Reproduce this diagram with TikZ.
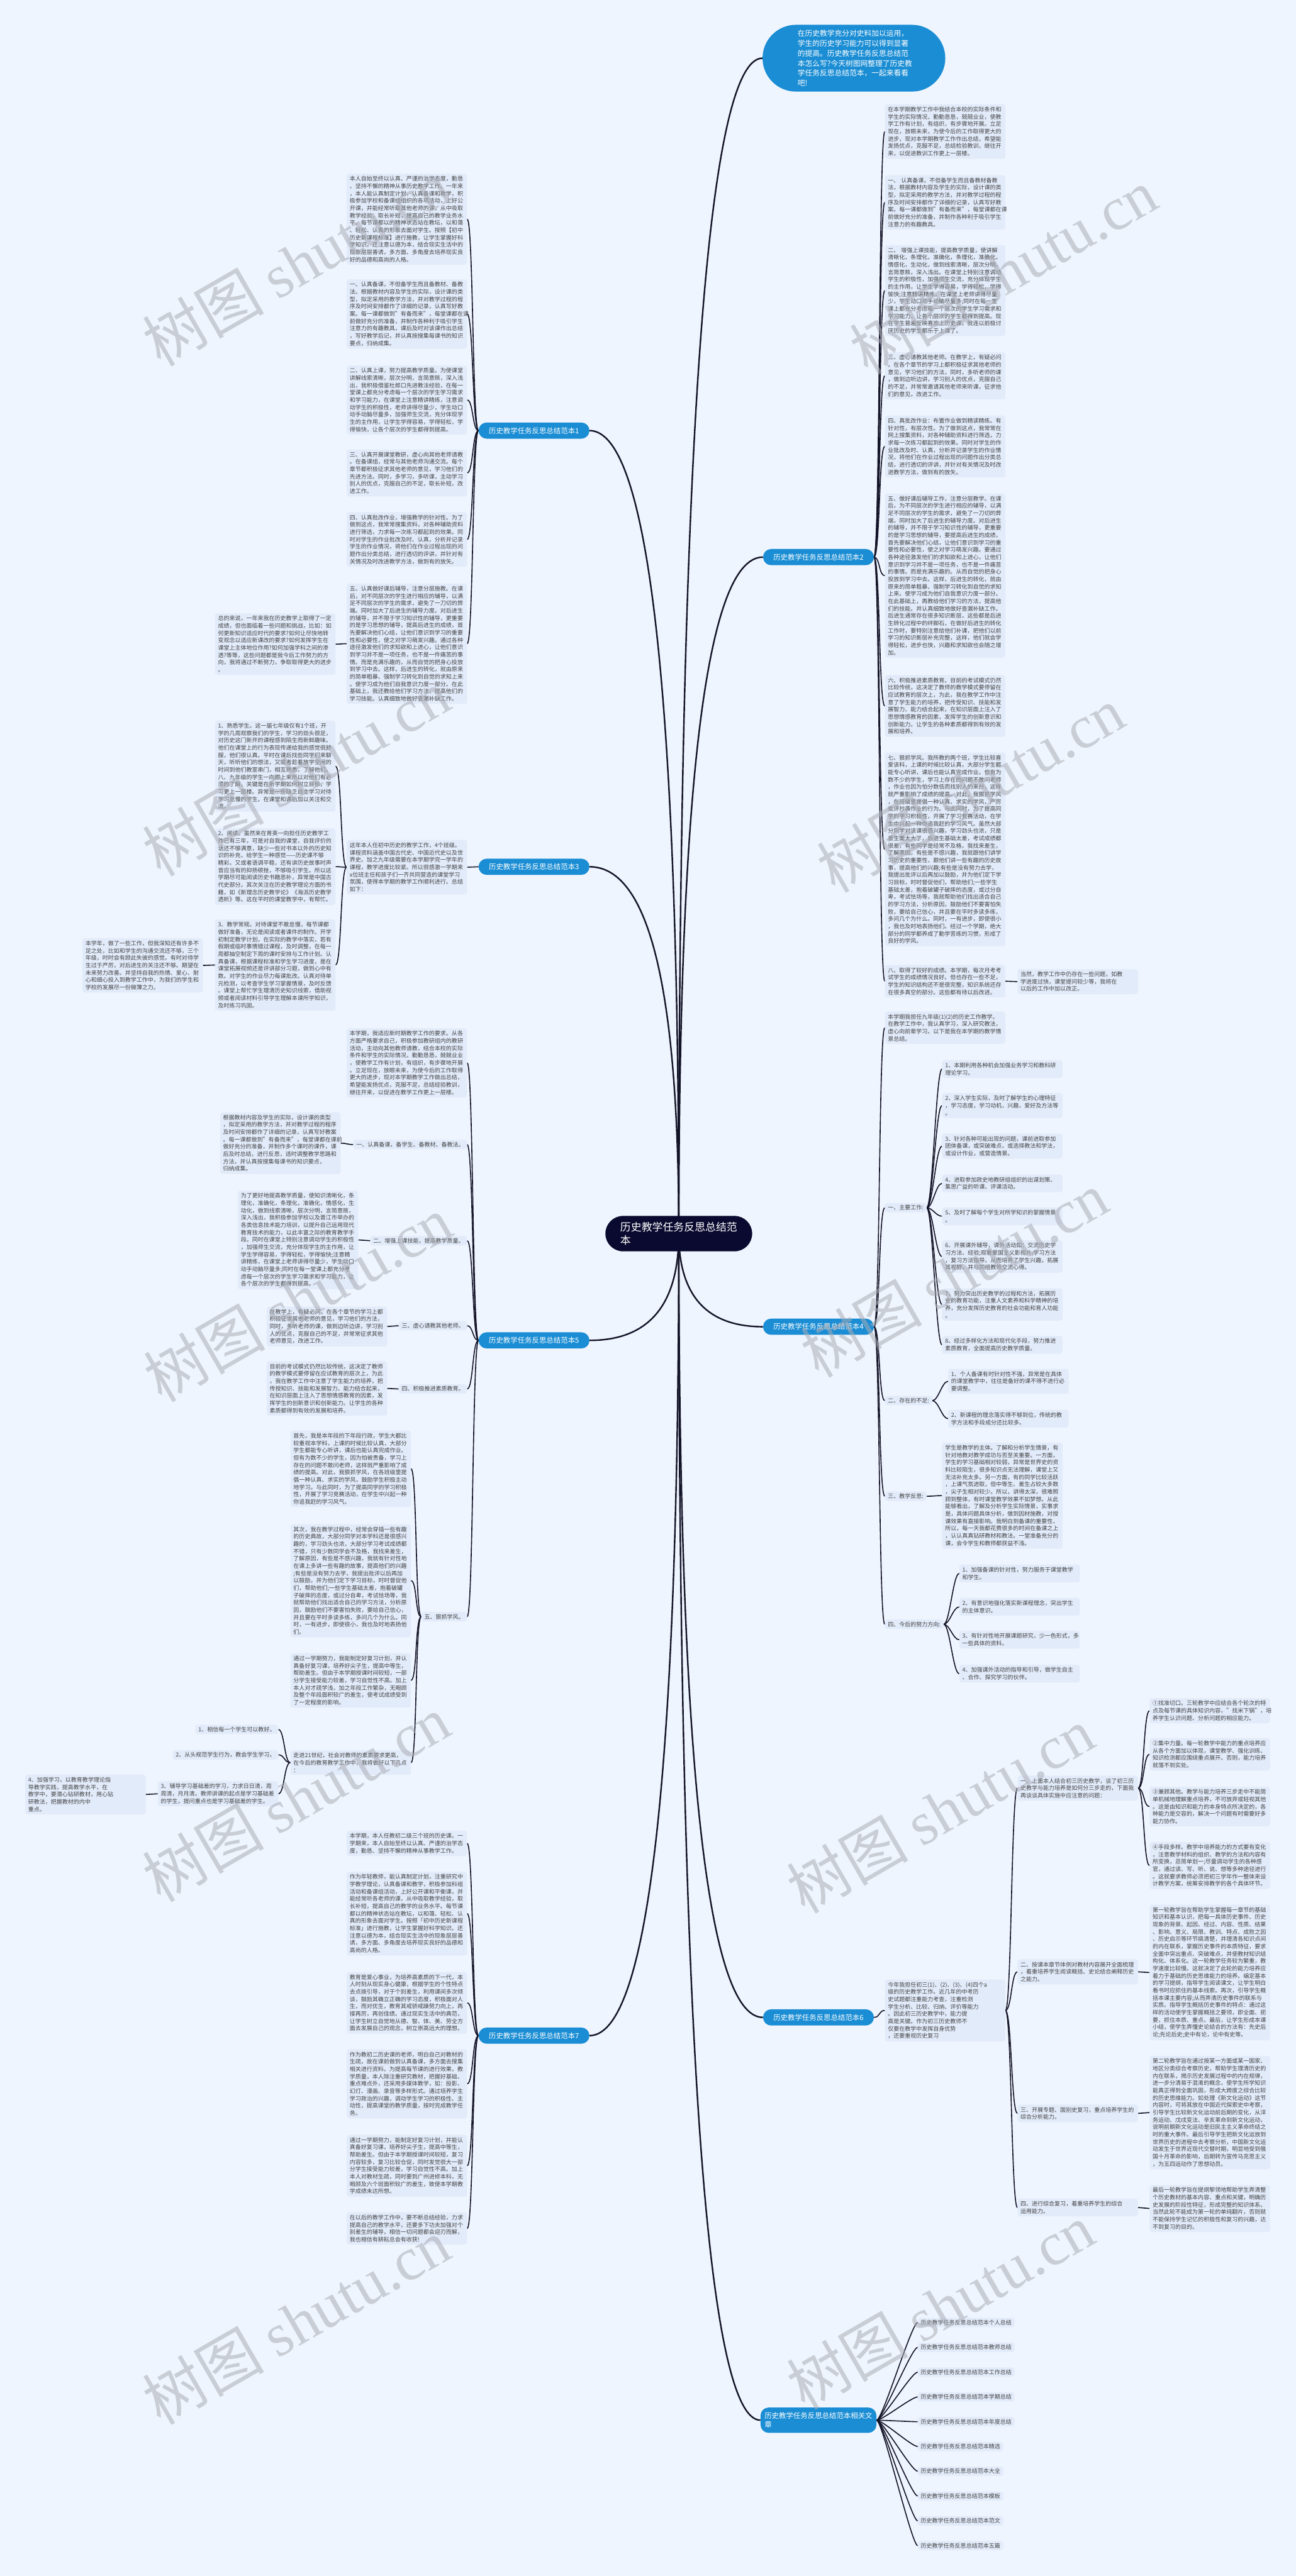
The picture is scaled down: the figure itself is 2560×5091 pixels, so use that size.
\documentclass[tikz,border=0pt]{standalone}
\usepackage{fontspec}
\setmainfont{Noto Sans CJK SC}
\newfontfamily\wmlatin{Liberation Serif}
\usetikzlibrary{calc}
\definecolor{bgc}{RGB}{239,245,254}
\definecolor{boxc}{RGB}{226,235,250}
\definecolor{txtc}{RGB}{68,68,68}
\definecolor{brc}{RGB}{26,141,212}
\definecolor{ctrc}{RGB}{10,10,48}
\definecolor{lnc}{RGB}{20,20,40}
\definecolor{wmc}{RGB}{170,173,182}
\pgfdeclarelayer{back}\pgfdeclarelayer{lines}
\pgfsetlayers{back,lines,main}
\newcommand\myfs{\fontsize{11.2pt}{14.5pt}\selectfont}
\newcommand\myrc[2]{\draw[lk] (#1.east) .. controls +(12,0) and +(-12,0) .. (#2.west);}
\newcommand\mylc[2]{\draw[lk] (#1.west) .. controls +(-12,0) and +(12,0) .. (#2.east);}
\newcommand\myctr[2]{\coordinate (q#1) at (ctr.center |- #1.#2);
 \draw[mlk] (ctr.center) .. controls ($(ctr.center)!0.667!(q#1)$) and ($(#1.#2)!0.667!(q#1)$) .. (#1.#2);}
\tikzset{
 tb/.style={fill=boxc, rounded corners=5pt, inner xsep=6pt, inner ysep=5pt, text width=226pt, align=left, font=\myfs, text=txtc},
 lb/.style={fill=boxc, rounded corners=5pt, inner xsep=6pt, inner ysep=4pt, font=\myfs, text=txtc},
 br/.style={fill=brc, rounded corners=16pt, text=white, font=\fontsize{14.2pt}{17pt}\selectfont, minimum height=32pt, minimum width=219pt, inner xsep=8pt},
 lk/.style={draw=lnc, line width=2pt},
 mlk/.style={draw=lnc, line width=3pt},
 wm/.style={text=wmc, opacity=0.55, rotate=30, font=\fontsize{120pt}{125pt}\selectfont},
}
\begin{document}
\begin{tikzpicture}[x=1pt,y=-1pt]
\useasboundingbox (0,0) rectangle (2560,5091);
\begin{pgfonlayer}{back}
\fill[bgc] (0,0) rectangle (2560,5091);
\end{pgfonlayer}

% ---------- top intro and center ----------
\node[fill=brc, rounded corners=66pt, minimum width=361pt, minimum height=132pt, text width=222pt, align=left, text=white, font=\fontsize{14.6pt}{19.6pt}\selectfont] (intro) at (1687,115) {在历史教学充分对史料加以运用，\\学生的历史学习能力可以得到显著\\的提高。历史教学任务反思总结范\\本怎么写?今天树图网整理了历史教\\学任务反思总结范本，一起来看看\\吧!};
\node[fill=ctrc, rounded corners=35pt, minimum width=290pt, minimum height=70pt, text width=231pt, align=left, text=white, font=\fontsize{21pt}{26pt}\selectfont] (ctr) at (1341,2438) {历史教学任务反思总结范\\本};

\node[br] (b1) at (1055,851) {历史教学任务反思总结范本1};
\node[br] (b2) at (1617,1101) {历史教学任务反思总结范本2};
\node[br] (b3) at (1055,1713) {历史教学任务反思总结范本3};
\node[br] (b4) at (1617,2622) {历史教学任务反思总结范本4};
\node[br] (b5) at (1055,2649) {历史教学任务反思总结范本5};
\node[br] (b6) at (1617,3987) {历史教学任务反思总结范本6};
\node[br] (b7) at (1055,4023) {历史教学任务反思总结范本7};
\node[br, text width=213pt, align=left, minimum height=50pt, font=\fontsize{14.2pt}{18pt}\selectfont] (b8) at (1617,4783) {历史教学任务反思总结范本相关文\\章};

% ---------- branch 1 ----------
\node[tb, anchor=north east] (b1a) at (923,343) {本人自始至终以认真、严谨的治学态度，勤恳\\、坚持不懈的精神从事历史教学工作。一年来\\，本人能认真制定计划，认真备课和教学，积\\极参加学校和备课组组织的各项活动，上好公\\开课，并能经常听取其他老师的课，从中吸取\\教学经验，取长补短，提高自己的教学业务水\\平。每节课都以的精神状态站在教坛，以和蔼\\、轻松、认真的形象去面对学生。按照【初中\\历史新课程标准】进行施教，让学生掌握好科\\学知识。还注意以德为本，结合现实生活中的\\现象层层善诱，多方面、多角度去培养现实良\\好的品德和高尚的人格。};
\node[tb, anchor=north east] (b1b) at (923,552) {一、认真备课，不但备学生而且备教材、备教\\法。根据教材内容及学生的实际，设计课的类\\型，拟定采用的教学方法，并对教学过程的程\\序及时间安排都作了详细的记录，认真写好教\\案。每一课都做到"有备而来"，每堂课都在课\\前做好充分的准备，并制作各种利于吸引学生\\注意力的有趣教具，课后及时对该课作出总结\\，写好教学后记，并认真按搜集每课书的知识\\要点，归纳成集。};
\node[tb, anchor=north east] (b1c) at (923,722) {二、认真上课，努力提高教学质量。为使课堂\\讲解线索清晰，层次分明，言简意赅，深入浅\\出，我积极借鉴杜郎口先进教法经验，在每一\\堂课上都充分考虑每一个层次的学生学习需求\\和学习能力，在课堂上注意精讲精练，注意调\\动学生的积极性，老师讲得尽量少，学生动口\\动手动脑尽量多，加强师生交流，充分体现学\\生的主作用，让学生学得容易，学得轻松，学\\得愉快，让各个层次的学生都得到提高。};
\node[tb, anchor=north east] (b1d) at (923,888) {三、认真开展课堂教研，虚心向其他老师请教\\。在备课组，经常与其他老师沟通交流。每个\\章节都积极征求其他老师的意见，学习他们的\\先进方法。同时，多学习，多听课，主动学习\\别人的优点，克服自己的不足，取长补短，改\\进工作。};
\node[tb, anchor=north east] (b1e) at (923,1012) {四、认真批改作业，增强教学的针对性。为了\\做到这点，我常常搜集资料，对各种辅助资料\\进行筛选，力求每一次练习都起到的效果。同\\时对学生的作业批改及时、认真，分析并记录\\学生的作业情况，将他们在作业过程出现的问\\题作出分类总结，进行透切的评讲，并针对有\\关情况及时改进教学方法，做到有的放矢。};
\node[tb, anchor=north east] (b1f) at (923,1153) {五、认真做好课后辅导，注意分层施教。在课\\后，对不同层次的学生进行相应的辅导，以满\\足不同层次的学生的需求，避免了一刀切的弊\\端。同时加大了后进生的辅导力度。对后进生\\的辅导，并不限于学习知识性的辅导，更重要\\的是学习思想的辅导，提高后进生的成绩，首\\先要解决他们心结，让他们意识到学习的重要\\性和必要性，使之对学习萌发兴趣。通过各种\\途径激发他们的求知欲和上进心，让他们意识\\到学习并不是一项任务，也不是一件痛苦的事\\情。而是充满乐趣的，从而自觉的把身心投放\\到学习中去。这样，后进生的转化，就由原来\\的简单粗暴、强制学习转化到自觉的求知上来\\。使学习成为他们自我意识力度一部分。在此\\基础上，我还教给他们学习方法，提高他们的\\学习技能。认真细致地做好查漏补缺工作。};
\node[tb, anchor=north east] (b1g) at (663,1212) {总的来说，一年来我在历史教学上取得了一定\\成绩，但也面临着一些问题和挑战，比如：如\\何更新知识适应时代的要求?如何让尽快地转\\变观念以适应新课改的要求?如何发挥学生在\\课堂上主体地位作用?如何加强学科之间的渗\\透?等等，这些问题都是我今后工作努力的方\\向，我将通过不断努力，争取取得更大的进步\\。};

% ---------- branch 2 ----------
\node[tb, anchor=north west] (b2a) at (1748,206) {在本学期教学工作中我结合本校的实际条件和\\学生的实际情况，勤勤恳恳，兢兢业业，使教\\学工作有计划，有组织，有步骤地开展。立足\\现在，放眼未来，为使今后的工作取得更大的\\进步，现对本学期教学工作作出总结，希望能\\发扬优点，克服不足，总结检验教训，继往开\\来，以促进教训工作更上一层楼。};
\node[tb, anchor=north west] (b2b) at (1748,346) {一、 认真备课，不但备学生而且备教材备教\\法，根据教材内容及学生的实际，设计课的类\\型，拟定采用的教学方法，并对教学过程的程\\序及时间安排都作了详细的记录，认真写好教\\案。每一课都做到"有备而来"，每堂课都在课\\前做好充分的准备，并制作各种利于吸引学生\\注意力的有趣教具。};
\node[tb, anchor=north west] (b2c) at (1748,484) {二、 增强上课技能，提高教学质量，使讲解\\清晰化，条理化，准确化，条理化，准确化，\\情感化，生动化，做到线索清晰，层次分明，\\言简意赅，深入浅出。在课堂上特别注意调动\\学生的积极性，加强师生交流，充分体现学生\\的主作用，让学生学得容易，学得轻松，学得\\愉快;注意精讲精练，在课堂上老师讲得尽量\\少，学生动口动手动脑尽量多;同时在每一堂\\课上都充分考虑每一个层次的学生学习需求和\\学习能力，让各个层次的学生都得到提高。现\\在学生普遍反映喜欢上历史课，就连以前极讨\\厌历史的学生都乐于上课了。};
\node[tb, anchor=north west] (b2d) at (1748,696) {三、虚心请教其他老师。在教学上，有疑必问\\。在各个章节的学习上都积极征求其他老师的\\意见，学习他们的方法，同时，多听老师的课\\，做到边听边讲，学习别人的优点，克服自己\\的不足，并常常邀请其他老师来听课，征求他\\们的意见，改进工作。};
\node[tb, anchor=north west] (b2e) at (1748,821) {四、真批改作业：布置作业做到精读精练。有\\针对性，有层次性。为了做到这点，我常常在\\网上搜集资料，对各种辅助资料进行筛选，力\\求每一次练习都起到的效果。同时对学生的作\\业批改及时、认真，分析并记录学生的作业情\\况，将他们在作业过程出现的问题作出分类总\\结，进行透切的评讲，并针对有关情况及时改\\进教学方法，做到有的放矢。};
\node[tb, anchor=north west] (b2f) at (1748,975) {五、做好课后辅导工作，注意分层教学。在课\\后，为不同层次的学生进行相应的辅导，以满\\足不同层次的学生的需求，避免了一刀切的弊\\端，同时加大了后进生的辅导力度。对后进生\\的辅导，并不限于学习知识性的辅导，更重要\\的是学习思想的辅导，要提高后进生的成绩，\\首先要解决他们心结，让他们意识到学习的重\\要性和必要性，使之对学习萌发兴趣。要通过\\各种途径激发他们的求知欲和上进心，让他们\\意识到学习并不是一项任务，也不是一件痛苦\\的事情。而是充满乐趣的。从而自觉的把身心\\投放到学习中去。这样，后进生的转化，就由\\原来的简单粗暴、强制学习转化到自觉的求知\\上来。使学习成为他们自我意识力度一部分。\\在此基础上，再教给他们学习的方法，提高他\\们的技能。并认真细致地做好查漏补缺工作。\\后进生通常存在很多知识断层，这些都是后进\\生转化过程中的绊脚石，在做好后进生的转化\\工作时，要特别注意给他们补课，把他们以前\\学习的知识断层补充完整，这样，他们就会学\\得轻松，进步也快，兴趣和求知欲也会随之增\\加。};
\node[tb, anchor=north west] (b2g) at (1748,1334) {六、积极推进素质教育。目前的考试模式仍然\\比较传统，这决定了教师的教学模式要停留在\\应试教育的层次上，为此，我在教学工作中注\\意了学生能力的培养，把传受知识、技能和发\\展智力、能力结合起来，在知识层面上注入了\\思想情感教育的因素，发挥学生的创新意识和\\创新能力。让学生的各种素质都得到有效的发\\展和培养。};
\node[tb, anchor=north west] (b2h) at (1748,1487) {七、狠抓学风。我所教的两个班，学生比较喜\\爱该科，上课的时候比较认真，大部分学生都\\能专心听讲，课后也能认真完成作业。但有为\\数不少的学生，学习上存在的问题不敢问老师\\，作业也因为怕分数低而找别人的来抄，这样\\就严重影响了成绩的提高。对此，我狠抓学风\\，在班级里提倡一种认真、求实的学风，严厉\\批评抄袭作业的行为。与此同时，为了提高同\\学的学习积极性，开展了学习竞赛活动，在学\\生中兴起一种你追我赶的学习风气。虽然大部\\分同学对该课很感兴趣，学习劲头也浓，只是\\差生面太大了，后进生基础太差，考试成绩都\\很差，有些同学是经常不及格，我找来差生，\\了解原因，有些是不感兴趣，我就跟他们讲学\\习历史的重要性，跟他们讲一些有趣的历史故\\事，提高他们的兴趣;有些是没有努力去学，\\我提出批评以后再加以鼓励，并为他们定下学\\习目标，时时督促他们，帮助他们;一些学生\\基础太差，抱着破罐子破摔的态度，或过分自\\卑，考试怯场等，我就帮助他们找出适合自己\\的学习方法，分析原因，鼓励他们不要害怕失\\败，要给自己信心，并且要在平时多读多练，\\多问几个为什么。同时，一有进步，即使很小\\，我也及时地表扬他们。经过一个学期，绝大\\部分的同学都养成了勤学苦练的习惯，形成了\\良好的学风。};
\node[tb, anchor=north west] (b2i) at (1748,1907) {八、取得了较好的成绩。本学期，每次月考考\\试学生的成绩情况良好。但也存在一些不足，\\学生的知识结构还不是很完整，知识系统还存\\在很多真空的部分。这些都有待以后改进。};
\node[tb, anchor=west] (b2j) at (2010,1940) {当然，教学工作中仍存在一些问题，如教\\学进度过快，课堂提问较少等，我将在\\以后的工作中加以改正。};

% ---------- branch 3 ----------
\node[tb, anchor=north east] (b3a) at (923,1660) {这年本人任初中历史的教学工作，4个班级。\\课程资料涵盖中国古代史、中国近代史以及世\\界史。加之九年级需要在本学期学完一学年的\\课程，教学进度比较紧。所以很感激一学期来\\x位班主任和孩子们一齐共同营造的课堂学习\\氛围，使得本学期的教学工作顺利进行。总结\\如下：};
\node[tb, anchor=north east] (b3b) at (663,1424) {1、熟悉学生。这一届七年级仅有1个班，开\\学的几周观察我们的学生，学习的劲头很足，\\对历史这门新开的课程感到陌生而新鲜趣味。\\他们在课堂上的行为表现传递给我的感觉很舒\\服，他们很认真。平时在课后找些同学们来聊\\天，听听他们的想法，又或者趁着放学空闲的\\时间到他们教室串门，相互熟悉，了解他们。\\八、九年级的学生一向跟上来所以对他们有必\\须的了解，关键是在新学期如何树立目标，学\\习更上一层楼。异常是一些缺乏自主学习对待\\学习怠慢的学生。在课堂和课后加以关注和交\\流。};
\node[tb, anchor=north east] (b3c) at (663,1637) {2、阅读。虽然来在育英一向担任历史教学工\\作已有三年，可是对自我的课堂，自我评价的\\话还不够满意，缺少一些对书本以外的历史知\\识的补充，给学生一种感觉——历史课不够\\精彩。又或者语调平稳，还有讲历史故事时声\\音应当有的抑扬顿挫，不够吸引学生。所以这\\学期尽可能阅读历史书籍恶补，异常是中国古\\代史部分。其次关注在历史教学理论方面的书\\籍，如《新理念历史教学论》《海派历史教学\\透析》等。这在平时的课堂教学中，有帮忙。};
\node[tb, anchor=north east] (b3d) at (663,1817) {3、教学常规。对待课堂不敢怠慢，每节课都\\做好准备，无论是阅读或者课件的制作。开学\\初制定教学计划，在实际的教学中落实，若有\\假期或临时事情错过课程，及时调整，在每一\\周都抽空制定下周的课时安排与工作计划。认\\真备课，根据课程标准和学生学习进度，是在\\课堂拓展视频还是评讲部分习题，做到心中有\\数。对学生的作业尽力每课批改。认真对待单\\元检测，以考查学生学习掌握情景，及时反馈\\。课堂上帮忙学生理清历史知识线索，借助视\\频或者阅读材料引导学生理解本课所学知识，\\及时练习巩固。};
\node[tb, anchor=north east] (b3e) at (401,1854) {本学年，做了一些工作，但我深知还有许多不\\足之处，比如和学生的沟通交流还不够，三个\\年级，时时会有顾此失彼的感觉。有时对待学\\生过于严厉，对后进生的关注还不够。期望在\\未来努力改善。并坚持自我的热情、爱心、耐\\心和细心投入到教学工作中，为我们的学生和\\学校的发展尽一份微薄之力。};

% ---------- branch 4 ----------
\node[tb, anchor=north west] (b4a) at (1748,1999) {本学期我担任九年级(1)(2)的历史工作教学。\\在教学工作中，我认真学习，深入研究教法，\\虚心向前辈学习。以下是我在本学期的教学情\\景总结。};
\node[lb, anchor=west] (l41) at (1748,2387) {一、主要工作:};
\node[tb, anchor=north west] (i411) at (1861,2095) {1、本期利用各种机会加强业务学习和教科研\\理论学习。};
\node[tb, anchor=north west] (i412) at (1861,2160) {2、深入学生实际，及时了解学生的心理特征\\，学习态度，学习动机，兴趣，爱好及方法等\\。};
\node[tb, anchor=north west] (i413) at (1861,2240) {3、针对各种可能出现的问题，课前进取参加\\团体备课，或突破难点，或选择教法和学法，\\或设计作业，或营造情景。};
\node[tb, anchor=north west] (i414) at (1861,2321) {4、进取参加政史地教研组组织的出谋划策、\\集思广益的听课、评课活动。};
\node[tb, anchor=north west] (i415) at (1861,2386) {5、及时了解每个学生对所学知识的掌握情景\\。};
\node[tb, anchor=north west] (i416) at (1861,2451) {6、开展课外辅导，课外活动如：交流历史学\\习方法、经验;观看爱国主义影视片;学习方法\\，复习方法指导。从而培养了学生兴趣，拓展\\其视野，并与同组教师交流心得。};
\node[tb, anchor=north west] (i417) at (1861,2546) {7、努力突出历史教学的过程和方法，拓展历\\史的教育功能，注重人文素养和科学精神的培\\养，充分发挥历史教育的社会功能和育人功能\\。};
\node[tb, anchor=north west] (i418) at (1861,2640) {8、经过多样化方法和现代化手段，努力推进\\素质教育，全面提高历史教学质量。};
\node[lb, anchor=west] (l42) at (1748,2768) {二、存在的不足:};
\node[tb, anchor=north west] (i421) at (1873,2705) {1、个人备课有时针对性不强，异常是在具体\\的课堂教学中，往往是备好的课不得不进行必\\要调整。};
\node[tb, anchor=north west] (i422) at (1873,2786) {2、新课程的理念落实得不够到位，传统的教\\学方法和手段成分还比较多。};
\node[lb, anchor=west] (l43) at (1748,2957) {三、教学反思:};
\node[tb, anchor=north west] (i431) at (1861,2851) {学生是教学的主体。了解和分析学生情景，有\\针对地教对教学成功与否至关重要。一方面，\\学生的学习基础相对较弱，异常是世界史的资\\料比较陌生，很多知识点无法理解，课堂上又\\无法补充太多。另一方面，有的同学比较活跃\\，上课气氛进取，但中等生、差生占较大多数\\，尖子生相对较少。所以，讲得太深，很难照\\顾到整体，有时课堂教学效果不如梦想。从此\\能够看出，了解及分析学生实际情景，实事求\\是，具体问题具体分析，做到因材施教，对授\\课效果有直接影响。我明白到备课的重要性，\\所以，每一天我都花费很多的时间在备课之上\\，认认真真钻研教材和教法。一堂准备充分的\\课，会令学生和教师都获益不浅。};
\node[lb, anchor=west] (l44) at (1748,3210) {四、今后的努力方向:};
\node[tb, anchor=north west] (i441) at (1895,3092) {1、加强备课的针对性，努力服务于课堂教学\\和学生。};
\node[tb, anchor=north west] (i442) at (1895,3158) {2、有意识地强化落实新课程理念，突出学生\\的主体意识。};
\node[tb, anchor=north west] (i443) at (1895,3223) {3、有针对性地开展课题研究，少一色形式，多\\一些具体的资料。};
\node[tb, anchor=north west] (i444) at (1895,3290) {4、加强课外活动的指导和引导，做学生自主\\、合作、探究学习的伙伴。};

% ---------- branch 5 ----------
\node[tb, anchor=north east] (b5a) at (923,2032) {本学期，我适应新时期教学工作的要求。从各\\方面严格要求自己，积极参加教研组内的教研\\活动，主动向其他教师请教，结合本校的实际\\条件和学生的实际情况，勤勤恳恳，兢兢业业\\，使教学工作有计划，有组织，有步骤地开展\\。立足现在，放眼未来，为使今后的工作取得\\更大的进步，现对本学期教学工作做出总结，\\希望能发扬优点，克服不足，总结经验教训，\\继往开来，以促进在教学工作更上一层楼。};
\node[lb, anchor=east] (l51) at (923,2262) {一、认真备课，备学生、备教材、备教法。};
\node[tb, anchor=north east] (d51) at (673,2198) {根据教材内容及学生的实际，设计课的类型\\，拟定采用的教学方法，并对教学过程的程序\\及时间安排都作了详细的记录，认真写好教案\\。每一课都做到"有备而来"，每堂课都在课前\\做好充分的准备，并制作多个课时的课件，课\\后及时总结，进行反思，适时调整教学思路和\\方法，并认真按搜集每课书的知识要点，\\归纳成集。};
\node[lb, anchor=east] (l52) at (923,2452) {二、增强上课技能，提高教学质量。};
\node[tb, anchor=north east] (d52) at (708,2353) {为了更好地提高教学质量，使知识清晰化，条\\理化，准确化，条理化，准确化，情感化，生\\动化，做到线索清晰，层次分明，言简意赅，\\深入浅出，我积极参加学校以及晋江市举办的\\各类信息技术能力培训，以提升自己运用现代\\教育技术的能力，以此丰富之际的教育教学手\\段。同时在课堂上特别注意调动学生的积极性\\，加强师生交流，充分体现学生的主作用，让\\学生学得容易，学得轻松，学得愉快;注意精\\讲精练，在课堂上老师讲得尽量少，学生动口\\动手动脑尽量多;同时在每一堂课上都充分考\\虑每一个层次的学生学习需求和学习能力，让\\各个层次的学生都得到提高。};
\node[lb, anchor=east] (l53) at (923,2620) {三、虚心请教其他老师。};
\node[tb, anchor=north east] (d53) at (765,2582) {在教学上，有疑必问。在各个章节的学习上都\\积极征求其他老师的意见，学习他们的方法，\\同时，多听老师的课，做到边听边讲，学习别\\人的优点，克服自己的不足，并常常征求其他\\老师意见，改进工作。};
\node[lb, anchor=east] (l54) at (923,2745) {四、积极推进素质教育。};
\node[tb, anchor=north east] (d54) at (765,2690) {目前的考试模式仍然比较传统，这决定了教师\\的教学模式要停留在应试教育的层次上，为此\\，我在教学工作中注意了学生能力的培养，把\\传授知识、技能和发展智力、能力结合起来，\\在知识层面上注入了思想情感教育的因素，发\\挥学生的创新意识和创新能力。让学生的各种\\素质都得到有效的发展和培养。};
\node[lb, anchor=east] (l55) at (923,3195) {五、狠抓学风。};
\node[tb, anchor=north east] (d55a) at (812,2827) {首先，我是本年段的下年段行政，学生大都比\\较重视本学科，上课的时候比较认真，大部分\\学生都能专心听讲，课后也能认真完成作业。\\但有为数不少的学生，因为怕被责备，学习上\\存在的问题不敢问老师，这样就严重影响了成\\绩的提高。对此，我狠抓学风，在各班级里提\\倡一种认真、求实的学风，鼓励学生积极主动\\地学习。与此同时，为了提高同学的学习积极\\性，开展了学习竞赛活动，在学生中兴起一种\\你追我赶的学习风气。};
\node[tb, anchor=north east] (d55b) at (812,3012) {其次，我在教学过程中，经常会穿插一些有趣\\的历史典故，大部分同学对本学科还是很感兴\\趣的，学习劲头也浓，大部分学习考试成绩都\\不错，只有少数同学会不及格，我找来差生，\\了解原因，有些是不感兴趣，我就有针对性地\\在课上多讲一些有趣的故事，提高他们的兴趣\\;有些是没有努力去学，我提出批评以后再加\\以鼓励，并为他们定下学习目标，时时督促他\\们，帮助他们;一些学生基础太差，抱着破罐\\子破摔的态度，或过分自卑，考试怯场等，我\\就帮助他们找出适合自己的学习方法，分析原\\因，鼓励他们不要害怕失败，要给自己信心，\\并且要在平时多读多练，多问几个为什么。同\\时，一有进步，即使很小，我也及时地表扬他\\们。};
\node[tb, anchor=north east] (d55c) at (812,3267) {通过一学期努力，我能制定好复习计划，并认\\真备好复习课，培养好尖子生，提高中等生，\\帮助差生。但由于本学期授课时间较短，一部\\分学生接受能力较差，学习自觉性不高。加上\\本人对才疏学浅，加之年段工作繁杂，无暇顾\\及整个年段面积较广的差生，使考试成绩受到\\了一定程度的影响。};
\node[tb, anchor=north east] (d55d) at (812,3459) {走进21世纪，社会对教师的素质要求更高，\\在今后的教育教学工作中，我将做好以下几点\\：};
\node[lb, anchor=east] (e1) at (550,3418) {1、相信每一个学生可以教好。};
\node[lb, anchor=east] (e2) at (550,3468) {2、从头规范学生行为，教会学生学习。};
\node[tb, anchor=north east] (e3) at (550,3520) {3、辅导学习基础差的学习，力求日日清，周\\周清，月月清。教师讲课的起点是学习基础差\\的学生，提问重点也是学习基础差的学生。};
\node[tb, anchor=north east] (e3a) at (288,3507) {4、加强学习，以教育教学理论指\\导教学实践，提高教学水平，在\\教学中，要潜心钻研教材，用心钻\\研教法，把握教材的内中\\重点。};

% ---------- branch 6 ----------
\node[tb, anchor=north west] (b6a) at (1748,3912) {今年我担任初三(1)、(2)、(3)、(4)四个a\\级的历史教学工作。近几年的中考历\\史试题都注重能力考查，注重检测\\学生分析、比较、归纳、评价等能力\\。因此初三历史教学中，能力提\\高是关键。作为初三历史教师不\\仅要在教学中发挥自身优势\\，还要重视历史复习};
\node[tb, anchor=north west] (l61) at (2010,3509) {一、上面本人结合初三历史教学，谈了初三历\\史教学与能力培养是如何分三步走的，下面我\\再谈谈具体实施中应注意的问题：};
\node[tb, anchor=north west] (i611) at (2271,3356) {①找准切口。三轮教学中应结合各个轮次的特\\点及每节课的具体知识内容，"找米下锅"，培\\养学生认识问题、分析问题的相应能力。};
\node[tb, anchor=north west] (i612) at (2271,3435) {②集中力量。每一轮教学中能力的重点培养应\\从各个方面加以体现，课堂教学、强化训练、\\知识检测都应围绕重点展开。否则，能力培养\\就落不到实处。};
\node[tb, anchor=north west] (i613) at (2271,3531) {③兼顾其他。教学与能力培养三步走中不能简\\单机械地理解重点培养，不可放弃或轻视其他\\。这是由知识和能力的本身特点所决定的，各\\种能力是交容的，解决一个问题有时需要好多\\能力协作。};
\node[tb, anchor=north west] (i614) at (2271,3640) {④手段多样。教学中培养能力的方式要有变化\\，注意教学材料的组织、教学的方法和内容有\\所变换，忌简单划一;尽量调动学生的各种感\\官，通过读、写、听、说、想等多种途径进行\\。这就要求教师必须把初三学年作一整体来设\\计教学方案，统筹安排教学的各个具体环节。};
\node[tb, anchor=north west] (l62) at (2010,3872) {二、按课本章节体例对教材内容展开全面梳理\\，着重培养学生阅读概括、史论结合阐释历史\\之能力。};
\node[tb, anchor=north west] (i621) at (2271,3764) {第一轮教学旨在帮助学生掌握每一章节的基础\\知识和基本认识，把每一具体历史事件、历史\\现象的背景、起因、经过、内容、性质、结果\\、影响、意义、局限、教训、特点、成败之因\\、历史启示等环节搞清楚，并理清各知识点间\\的内在联系，掌握历史事件的本质特征，要求\\全面中突出重点、突破难点，并使教材知识结\\构化、体系化。这一轮教学任务较为繁重，教\\学速度比较慢。这就决定了此轮的能力培养应\\着力于基础的历史思维能力的培养。编定基本\\的学习提纲，指导学生阅读课文，让学生明白\\看书时应抓住的基本线索。再次，引导学生概\\括本课主要内容;从而弄清历史事件的联系与\\实质。指导学生概括历史事件的特点：通过这\\样的活动使学生掌握概括之要领，即全面、扼\\要，抓住本质、重点。最后，让学生形成本课\\小结，使学生弄懂史论结合的方法有：先史后\\论;先论后史;史中有论，论中有史等。};
\node[tb, anchor=north west] (l63) at (2010,4159) {三、开展专题、国别史复习，重点培养学生的\\综合分析能力。};
\node[tb, anchor=north west] (i631) at (2271,4063) {第二轮教学旨在通过按某一方面或某一国家、\\地区分类综合考察历史，帮助学生理清历史的\\内在联系，揭示历史发展过程中的内在规律，\\进一步分清易于混淆的概念，使学生所学知识\\能真正得到全面巩固，形成大跨度之综合比较\\的历史思维能力。如处理《新文化运动》这节\\内容时，可将其放在中国近代探索史中考察，\\引导学生比较新文化运动前后期的变化，从洋\\务运动、戊戌变法、辛亥革命到新文化运动，\\说明前期新文化运动是旧民主主义革命终结之\\时的重大事件。最后引导学生把新文化运放到\\世界历史的进程中去考察分析，中国新文化运\\动发生于世界近现代交替时期，明显地受到俄\\国十月革命的影响，后期转为宣传马克思主义\\，为五四运动作了思想动员。};
\node[tb, anchor=north west] (l64) at (2010,4345) {四、进行综合复习，着重培养学生的综合\\运用能力。};
\node[tb, anchor=north west] (i641) at (2271,4318) {最后一轮教学旨在提纲挈领地帮助学生弄清整\\个历史教材的基本内容、重点和关键，明确历\\史发展的阶段性特征，形成完整的知识体系。\\当然此轮不能成为第一轮的单纯翻片，否则就\\不能保持学生记忆的积极性和复习的兴趣，达\\不到复习的目的。};

% ---------- branch 7 ----------
\node[tb, anchor=north east] (b7a) at (923,3618) {本学期，本人任教初二级三个班的历史课。一\\学期来，本人自始至终以认真、严谨的治学态\\度，勤恳、坚持不懈的精神从事教学工作。};
\node[tb, anchor=north east] (b7b) at (923,3699) {作为年轻教师，能认真制定计划，注重研究中\\学教学理论，认真备课和教学，积极参加科组\\活动和备课组活动，上好公开课和平衡课，并\\能经常听各老师的课，从中吸取教学经验，取\\长补短，提高自己的教学的业务水平。每节课\\都以的精神状态站在教坛，以和蔼、轻松、认\\真的形象去面对学生。按照「初中历史新课程\\标准」进行施教，让学生掌握好科学知识。还\\注意以德为本，结合现实生活中的现象层层善\\诱，多方面、多角度去培养现实良好的品德和\\高尚的人格。};
\node[tb, anchor=north east] (b7c) at (923,3897) {教育是爱心事业，为培养高素质的下一代，本\\人时刻从现实身心健康，根据学生的个性特点\\去点拨引导，对于个别差生，利用课间多次倾\\谈，鼓励其确立正确的学习态度，积极面对人\\生，而对优生，教育其戒骄戒躁努力向上，再\\接再厉，再创佳绩。通过现实生活中的典范，\\让学生树立自觉地从德、智、体、美、劳全方\\面去发展自己的观念，树立崇高远大的理想。};
\node[tb, anchor=north east] (b7d) at (923,4050) {作为教初二历史课的老师，明白自己对教材的\\生疏，故在课前做到认真备课，多方面去搜集\\相关进行资料。为提高每节课的进行效果，教\\学质量，本人除注重研究教材，把握好基础、\\重点难点外，还采用多媒体教学，如：投影、\\幻灯、漫画、录音等多样形式。通过培养学生\\学习政治的兴趣，调动学生学习的积极性、主\\动性，提高课堂的教学质量，按时完成教学任\\务。};
\node[tb, anchor=north east] (b7e) at (923,4219) {通过一学期努力，能制定好复习计划，并能认\\真备好复习课，培养好尖子生，提高中等生，\\帮助差生。但由于本学期授课时间较短，复习\\内容较多，复习比较仓促，同时发觉很大一部\\分学生接受能力较差，学习自觉性不高。加上\\本人对教材生疏，同时要到广州进修本科，无\\暇顾及六个班面积较广的差生，致使本学期教\\学成绩未达所想。};
\node[tb, anchor=north east] (b7f) at (923,4372) {在以后的教学工作中，要不断总结经验，力求\\提高自己的教学水平，还要多下功夫加强对个\\别差生的辅导，相信一切问题都会迎刃而解，\\我也相信有耕耘总会有收获!};

% ---------- branch 8 ----------
\node[lb, anchor=west] (r1) at (1813,4590) {历史教学任务反思总结范本个人总结};
\node[lb, anchor=west] (r2) at (1813,4639) {历史教学任务反思总结范本教师总结};
\node[lb, anchor=west] (r3) at (1813,4688) {历史教学任务反思总结范本工作总结};
\node[lb, anchor=west] (r4) at (1813,4737) {历史教学任务反思总结范本学期总结};
\node[lb, anchor=west] (r5) at (1813,4786) {历史教学任务反思总结范本年度总结};
\node[lb, anchor=west] (r6) at (1813,4835) {历史教学任务反思总结范本精选};
\node[lb, anchor=west] (r7) at (1813,4884) {历史教学任务反思总结范本大全};
\node[lb, anchor=west] (r8) at (1813,4933) {历史教学任务反思总结范本模板};
\node[lb, anchor=west] (r9) at (1813,4982) {历史教学任务反思总结范本范文};
\node[lb, anchor=west] (r10) at (1813,5031) {历史教学任务反思总结范本五篇};

% ---------- connectors ----------
\begin{pgfonlayer}{lines}
\myctr{intro}{west}
\myctr{b1}{east}\myctr{b3}{east}\myctr{b5}{east}\myctr{b7}{east}
\myctr{b2}{west}\myctr{b4}{west}\myctr{b6}{west}\myctr{b8}{west}
\foreach \c in {b1a,b1b,b1c,b1d,b1e,b1f}{\mylc{b1}{\c}}
\mylc{b1f}{b1g}
\foreach \c in {b2a,b2b,b2c,b2d,b2e,b2f,b2g,b2h,b2i}{\myrc{b2}{\c}}
\myrc{b2i}{b2j}
\mylc{b3}{b3a}
\foreach \c in {b3b,b3c,b3d}{\mylc{b3a}{\c}}
\mylc{b3d}{b3e}
\foreach \c in {b4a,l41,l42,l43,l44}{\myrc{b4}{\c}}
\foreach \c in {i411,i412,i413,i414,i415,i416,i417,i418}{\myrc{l41}{\c}}
\foreach \c in {i421,i422}{\myrc{l42}{\c}}
\myrc{l43}{i431}
\foreach \c in {i441,i442,i443,i444}{\myrc{l44}{\c}}
\foreach \c in {b5a,l51,l52,l53,l54,l55}{\mylc{b5}{\c}}
\mylc{l51}{d51}\mylc{l52}{d52}\mylc{l53}{d53}\mylc{l54}{d54}
\foreach \c in {d55a,d55b,d55c,d55d}{\mylc{l55}{\c}}
\foreach \c in {e1,e2,e3}{\mylc{d55d}{\c}}
\mylc{e3}{e3a}
\myrc{b6}{b6a}
\foreach \c in {l61,l62,l63,l64}{\myrc{b6a}{\c}}
\foreach \c in {i611,i612,i613,i614}{\myrc{l61}{\c}}
\myrc{l62}{i621}\myrc{l63}{i631}\myrc{l64}{i641}
\foreach \c in {b7a,b7b,b7c,b7d,b7e,b7f}{\mylc{b7}{\c}}
\foreach \c in {r1,r2,r3,r4,r5,r6,r7,r8,r9,r10}{\myrc{b8}{\c}}
\end{pgfonlayer}

% ---------- watermarks ----------
\foreach \wx/\wy [count=\wi] in {585/520,585/1527,588/2567,585/3554,585/4588,1982/536,1917/1560,1885/2518,1858/3577,1858/4558}{
 \node[wm] (wm\wi) at (\wx,\wy) {树图 {\wmlatin shutu.cn}};
}
\end{tikzpicture}
\end{document}
